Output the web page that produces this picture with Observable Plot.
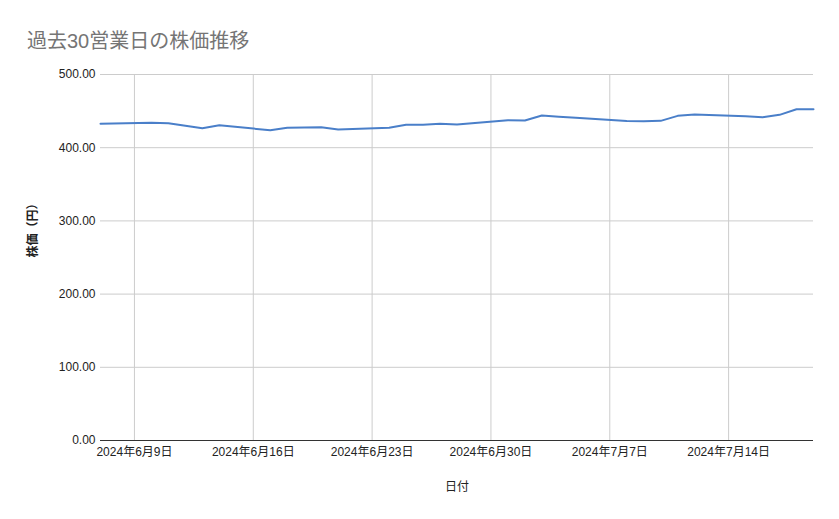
<!DOCTYPE html>
<html>
<head>
<meta charset="utf-8">
<script src="https://cdn.jsdelivr.net/npm/d3@7"></script>
<script src="https://cdn.jsdelivr.net/npm/@observablehq/plot@0.6"></script>
<style>
  body { margin: 0; background: #fff; font-family: "Liberation Sans", Arial, "Noto Sans CJK JP", sans-serif; }
  #wrap { position: relative; width: 839px; height: 519px; }
  #title { position: absolute; left: 27px; top: 25px; font-size: 20px; color: #757575; font-family: "Liberation Sans", Arial, "Noto Sans CJK JP", sans-serif; }
</style>
</head>
<body>
<div id="wrap"><div id="title">過去30営業日の株価推移</div></div>
<script>
const dates = ["2024-06-07","2024-06-10","2024-06-11","2024-06-12","2024-06-13","2024-06-14",
  "2024-06-17","2024-06-18","2024-06-19","2024-06-20","2024-06-21",
  "2024-06-24","2024-06-25","2024-06-26","2024-06-27","2024-06-28",
  "2024-07-01","2024-07-02","2024-07-03","2024-07-04","2024-07-05",
  "2024-07-08","2024-07-09","2024-07-10","2024-07-11","2024-07-12",
  "2024-07-15","2024-07-16","2024-07-17","2024-07-18","2024-07-19"];
const prices = [432.6,434.2,433.5,430.0,426.6,430.7,
  423.8,427.2,427.6,428.0,424.9,
  427.2,431.3,431.3,432.6,431.7,
  437.6,437.2,444.0,442.4,440.8,
  436.5,436.2,436.7,443.5,445.4,
  443.0,441.7,444.9,452.6,452.6];
const xTicks = ["2024-06-09","2024-06-16","2024-06-23","2024-06-30","2024-07-07","2024-07-14"];
const yTicks = [0,100,200,300,400,500];

const data = dates.map((d, i) => ({date: new Date(d + "T00:00:00Z"), price: prices[i]}));
const tickDates = xTicks.map(d => new Date(d + "T00:00:00Z"));
const fmtDate = d => `${d.getUTCFullYear()}年${d.getUTCMonth() + 1}月${d.getUTCDate()}日`;

const chart = Plot.plot({
  width: 839,
  height: 519,
  marginLeft: 100,
  marginRight: 26,
  marginTop: 74,
  marginBottom: 79,
  style: {fontFamily: '"Liberation Sans", Arial, "Noto Sans CJK JP", sans-serif', fontSize: "12px", color: "#222"},
  x: {type: "utc", domain: [data[0].date, data[data.length - 1].date], label: null},
  y: {domain: [0, 500], label: null},
  marks: [
    Plot.ruleX(tickDates, {stroke: "#cccccc", strokeWidth: 1}),
    Plot.ruleY(yTicks.filter(v => v > 0), {stroke: "#cccccc", strokeWidth: 1}),
    Plot.ruleY([0], {stroke: "#333333", strokeWidth: 1}),
    Plot.axisX({ticks: tickDates, tickFormat: fmtDate, tickSize: 0, tickPadding: 7, fontSize: 12, fill: "#222"}),
    Plot.axisY({ticks: yTicks, tickFormat: v => v.toFixed(2), tickSize: 0, tickPadding: 5, fontSize: 12, fill: "#222"}),
    Plot.line(data, {x: "date", y: "price", stroke: "#4a7fc9", strokeWidth: 2, curve: "linear"}),
    Plot.text(["日付"], {frameAnchor: "bottom", dy: 50, fontSize: 12, fill: "#222", fontWeight: "normal"}),
    Plot.text(["株価（円）"], {frameAnchor: "left", dx: -67, rotate: -90, fontSize: 12, fill: "#222", fontWeight: "bold"})
  ]
});
document.getElementById("wrap").appendChild(chart);
</script>
</body>
</html>
